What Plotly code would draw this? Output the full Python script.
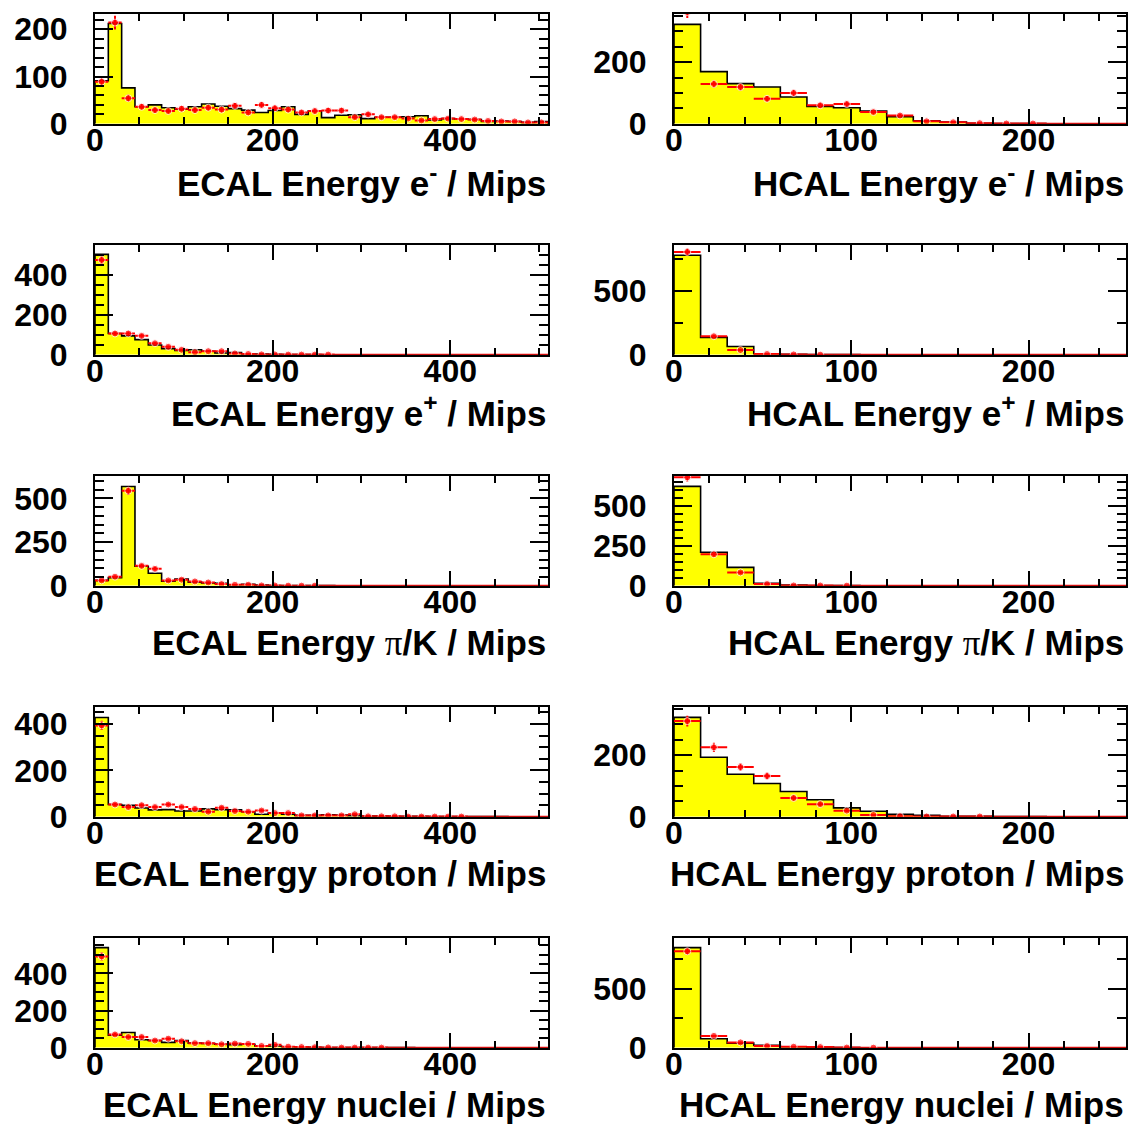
import numpy as np
import plotly.graph_objects as go

# ---------------- data ----------------
BIN_W = 15.0
ECAL_NBINS = 34   # 0 .. 510 Mips
HCAL_NBINS = 17   # 0 .. 255 Mips

ecal_eminus_mc = [91, 212, 76, 36, 40, 34, 31, 36, 42, 37, 32, 29, 24, 28, 36, 20, 27,
                  13, 18, 19, 11, 14, 14, 15, 17, 8, 11, 10, 9, 5, 6, 5, 3, 5]
ecal_eminus_data = [89, 214, 54, 36, 29, 27, 32, 29, 34, 30, 38, 24, 40, 33, 30, 24, 27,
                    28, 28, 14, 20, 14, 14, 11, 7, 10, 11, 10, 9, 6, 5, 5, 3, 3]
hcal_eminus_mc = [322, 169, 130, 119, 87, 56, 52, 41, 23, 10, 6, 2, 1, 1, 0, 0, 0]
hcal_eminus_data = [362, 129, 119, 81, 100, 60, 64, 38, 27, 8, 5, 2, 1, 1, 0, 0, 0]

ecal_eplus_mc = [504, 107, 95, 76, 49, 31, 22, 25, 18, 9, 11, 4, 4, 2, 1, 1, 1,
                 0, 0, 0, 0, 0, 0, 0, 0, 0, 0, 0, 0, 0, 0, 0, 0, 0]
ecal_eplus_data = [476, 107, 107, 95, 58, 40, 25, 13, 18, 18, 7, 4, 2, 2, 1, 1, 1,
                   1, 0, 0, 0, 0, 0, 0, 0, 0, 0, 0, 0, 0, 0, 0, 0, 0]
hcal_eplus_mc = [778, 136, 65, 8, 3, 1, 1, 0, 0, 0, 0, 0, 0, 0, 0, 0, 0]
hcal_eplus_data = [804, 145, 37, 6, 3, 1, 0, 0, 0, 0, 0, 0, 0, 0, 0, 0, 0]

ecal_pik_mc = [31, 47, 568, 112, 72, 27, 39, 21, 17, 14, 6, 8, 4, 2, 2, 1, 1,
               1, 0, 0, 0, 0, 0, 0, 0, 0, 0, 0, 0, 0, 0, 0, 0, 0]
ecal_pik_data = [31, 52, 543, 114, 97, 31, 35, 25, 19, 10, 6, 6, 2, 2, 1, 1, 1,
                 0, 0, 0, 0, 0, 0, 0, 0, 0, 0, 0, 0, 0, 0, 0, 0, 0]
hcal_pik_mc = [625, 211, 116, 16, 5, 2, 1, 0, 0, 0, 0, 0, 0, 0, 0, 0, 0]
hcal_pik_data = [682, 198, 84, 11, 2, 2, 1, 0, 0, 0, 0, 0, 0, 0, 0, 0, 0]

ecal_proton_mc = [428, 53, 50, 38, 30, 31, 25, 25, 34, 31, 30, 22, 11, 16, 11, 6, 6,
                  9, 8, 5, 3, 3, 2, 2, 2, 1, 1, 1, 1, 1, 1, 0, 0, 0]
ecal_proton_data = [394, 53, 42, 50, 42, 53, 42, 34, 22, 39, 25, 22, 27, 16, 16, 6, 6,
                    6, 6, 11, 2, 2, 2, 1, 1, 1, 1, 1, 0, 0, 0, 0, 0, 0]
hcal_proton_mc = [322, 193, 138, 108, 82, 55, 29, 18, 8, 5, 2, 2, 1, 1, 0, 0, 0]
hcal_proton_data = [310, 225, 161, 132, 61, 41, 20, 6, 2, 1, 1, 1, 0, 0, 0, 0, 0]

ecal_nuclei_mc = [538, 68, 82, 43, 39, 29, 39, 25, 23, 19, 17, 19, 10, 10, 6, 4, 3,
                  2, 2, 1, 1, 1, 1, 1, 0, 0, 0, 0, 0, 0, 0, 0, 0, 0]
ecal_nuclei_data = [491, 72, 58, 58, 39, 49, 35, 25, 25, 19, 23, 21, 10, 16, 6, 4, 3,
                    2, 1, 1, 1, 1, 0, 0, 0, 0, 0, 0, 0, 0, 0, 0, 0, 0]
hcal_nuclei_mc = [850, 77, 40, 21, 9, 6, 2, 1, 0, 0, 0, 0, 0, 0, 0, 0, 0]
hcal_nuclei_data = [819, 101, 46, 15, 9, 6, 2, 1, 0, 0, 0, 0, 0, 0, 0, 0, 0]

PI = "<span style=\"font-family:'Liberation Serif';font-weight:normal\">π</span>"
titles = [
    "ECAL Energy e<sup>-</sup> / Mips", "HCAL Energy e<sup>-</sup> / Mips",
    "ECAL Energy e<sup>+</sup> / Mips", "HCAL Energy e<sup>+</sup> / Mips",
    "ECAL Energy " + PI + "/K / Mips", "HCAL Energy " + PI + "/K / Mips",
    "ECAL Energy proton / Mips", "HCAL Energy proton / Mips",
    "ECAL Energy nuclei / Mips", "HCAL Energy nuclei / Mips",
]
mc_sets = [ecal_eminus_mc, hcal_eminus_mc, ecal_eplus_mc, hcal_eplus_mc,
           ecal_pik_mc, hcal_pik_mc, ecal_proton_mc, hcal_proton_mc,
           ecal_nuclei_mc, hcal_nuclei_mc]
data_sets = [ecal_eminus_data, hcal_eminus_data, ecal_eplus_data, hcal_eplus_data,
             ecal_pik_data, hcal_pik_data, ecal_proton_data, hcal_proton_data,
             ecal_nuclei_data, hcal_nuclei_data]
y_max = [233, 357, 553, 861, 630, 693, 475, 357, 592, 935]
y_major = [100, 200, 200, 500, 250, 250, 200, 200, 200, 500]
y_minor = [20, 50, 50, 250, 50, 50, 50, 50, 50, 250]

# ---------------- layout geometry (pixels) ----------------
W, H = 1128, 1124
LEFT_X = (95, 548)
RIGHT_X = (674, 1126)
ROW_PERIOD = 231.0
FRAME_TOP0, FRAME_BOT0, TITLE_Y0 = 13.6, 123.8, 180.5

FONT = "Liberation Sans, Arial, sans-serif"
TICK_SIZE = 32
TITLE_SIZE = 35

fig = go.Figure()
annotations = []
layout_axes = {}

for i in range(10):
    row, col = divmod(i, 2)
    nb = ECAL_NBINS if col == 0 else HCAL_NBINS
    xmax = nb * BIN_W
    edges = np.arange(nb + 1) * BIN_W
    centers = edges[:-1] + BIN_W / 2
    mc = np.array(mc_sets[i], dtype=float)
    dat = np.array(data_sets[i], dtype=float)

    xs = [0.0] + list(edges[:-1]) + [edges[-1], edges[-1]]
    ys = [0.0] + list(mc) + [mc[-1], 0.0]

    ax = "" if i == 0 else str(i + 1)
    fig.add_trace(go.Scatter(
        x=xs, y=ys, mode="lines", line=dict(shape="hv", color="black", width=1.6),
        fill="tozeroy", fillcolor="#FFFF00", xaxis="x" + ax, yaxis="y" + ax,
        hoverinfo="skip", showlegend=False))
    fig.add_trace(go.Scatter(
        x=centers, y=dat, mode="markers",
        marker=dict(color="#FF0000", size=[7 if v > 0 else 0 for v in dat]),
        error_y=dict(type="data", array=np.sqrt(dat), color="#FF0000", thickness=2, width=0),
        error_x=dict(type="data", array=[BIN_W / 2] * nb, color="#FF0000", thickness=2, width=0),
        xaxis="x" + ax, yaxis="y" + ax, showlegend=False))

    x0, x1 = LEFT_X if col == 0 else RIGHT_X
    top = FRAME_TOP0 + ROW_PERIOD * row
    bot = FRAME_BOT0 + ROW_PERIOD * row
    xdom = [x0 / W, x1 / W]
    ydom = [1 - bot / H, 1 - top / H]

    tickfont = dict(family=FONT, size=TICK_SIZE, color="black", weight="bold")
    layout_axes["xaxis" + ax] = dict(
        domain=xdom, range=[0, xmax], anchor="y" + ax, automargin=False,
        showline=True, linecolor="black", linewidth=2, mirror="allticks",
        ticks="inside", ticklen=15, tickwidth=2, tickcolor="black",
        tick0=0, dtick=200 if col == 0 else 100,
        minor=dict(ticks="inside", ticklen=7, tickwidth=2, tickcolor="black",
                   dtick=50 if col == 0 else 20, showgrid=False),
        showgrid=False, zeroline=False, tickfont=tickfont, ticklabelstandoff=-13)
    layout_axes["yaxis" + ax] = dict(
        domain=ydom, range=[0, y_max[i]], anchor="x" + ax, automargin=False,
        showline=True, linecolor="black", linewidth=2, mirror="allticks",
        ticks="inside", ticklen=18, tickwidth=2, tickcolor="black",
        tick0=0, dtick=y_major[i],
        minor=dict(ticks="inside", ticklen=9, tickwidth=2, tickcolor="black",
                   dtick=y_minor[i], showgrid=False),
        showgrid=False, zeroline=False, tickfont=tickfont, ticklabelstandoff=19)

    annotations.append(dict(
        text=titles[i], x=x1 / W, y=1 - (TITLE_Y0 + ROW_PERIOD * row) / H,
        xref="paper", yref="paper", xanchor="right", yanchor="middle",
        showarrow=False,
        font=dict(family=FONT, size=TITLE_SIZE, color="black", weight="bold")))

fig.update_layout(
    width=W, height=H, margin=dict(l=0, r=0, t=0, b=0, pad=0),
    paper_bgcolor="white", plot_bgcolor="white", showlegend=False,
    annotations=annotations, **layout_axes)

fig.write_html("out.html", config={"displayModeBar": False},
               post_script="document.body.style.margin='0px';"
                           "document.body.style.overflow='hidden';")
